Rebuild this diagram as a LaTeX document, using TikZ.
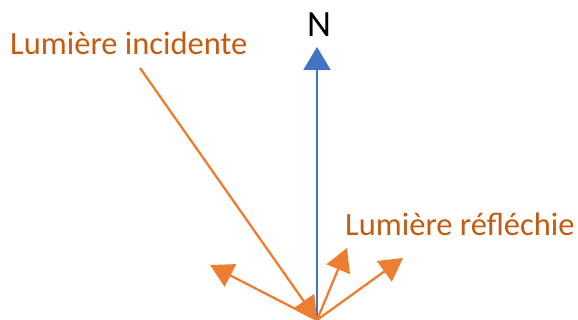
\documentclass[tikz,border=0pt]{standalone}
\usepackage{fontspec}
\setmainfont{Carlito}
\usepackage{xcolor}
\definecolor{RayOrange}{HTML}{ED7D31}
\definecolor{TextOrange}{HTML}{C55A11}
\definecolor{NormalBlue}{HTML}{4472C4}
\usetikzlibrary{arrows.meta}

\begin{document}
\begin{tikzpicture}[x=1pt, y=1pt,
  ray/.style={RayOrange, line width=2.3pt, -{Triangle[length=23pt, width=25pt]}},
  label/.style={TextOrange, font=\fontsize{32.5}{40}\selectfont, inner sep=0pt, anchor=base west}]
\useasboundingbox (0, 0) rectangle (578, 320);

% points
\coordinate (O) at (317, 0);
\coordinate (src) at (140, 252);
\coordinate (tip) at (317, 273);
\node[font=\fontsize{37}{44}\selectfont, inner sep=0pt, anchor=base] (N) at (319, 283) {N};

% normal
\draw[NormalBlue, line width=2.3pt, -{Triangle[length=23pt, width=27pt]}] (O) -- (tip);

% incident ray
\node[label] (inc) at (10, 265) {Lumière incidente};
\draw[ray] (src) -- (O);

% reflected rays
\node[label] (refl) at (345, 84) {Lumière réfléchie};
\coordinate (r1) at (210, 55);
\coordinate (r2) at (347, 72);
\coordinate (r3) at (403, 62);
\foreach \r in {r1, r2, r3}
  \draw[ray] (O) -- (\r);
\end{tikzpicture}
\end{document}
